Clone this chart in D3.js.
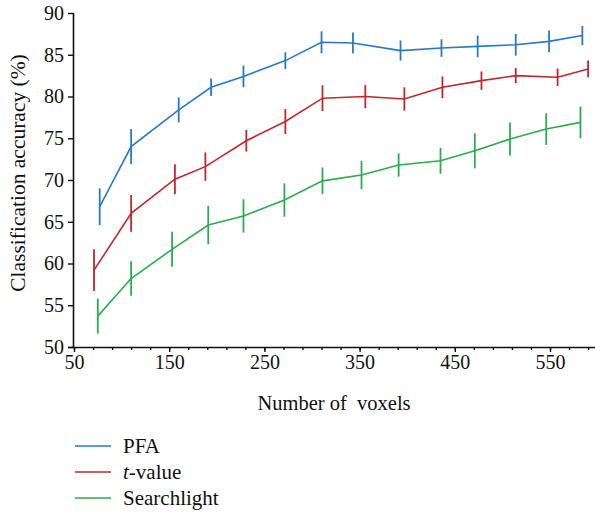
<!DOCTYPE html>
<html>
<head>
<meta charset="utf-8">
<script src="https://cdn.jsdelivr.net/npm/d3@7"></script>
<style>
  html, body { margin: 0; padding: 0; background: #fff; }
  svg { display: block; }
</style>
</head>
<body>
<script>
// ---- Data ----
const seriesNames = ["PFA", "t-value", "Searchlight"];

const pfaX   = [77, 110, 160, 194, 228, 272, 310, 343, 393, 436, 474, 514, 549, 584];
const pfaY   = [66.8, 74.0, 78.4, 81.1, 82.4, 84.3, 86.5, 86.4, 85.5, 85.8, 86.0, 86.2, 86.6, 87.3];
const pfaErr = [2.2, 2.1, 1.5, 1.05, 1.3, 1.0, 1.3, 1.25, 1.2, 1.05, 1.3, 1.3, 1.3, 1.15];

const tX   = [71, 110, 156, 188, 231, 272, 311, 356, 397, 437, 478, 514, 558, 590];
const tY   = [59.2, 66.0, 70.1, 71.6, 74.7, 77.0, 79.8, 80.0, 79.7, 81.1, 81.9, 82.5, 82.3, 83.3];
const tErr = [2.5, 2.2, 1.8, 1.7, 1.3, 1.5, 1.55, 1.4, 1.4, 1.3, 1.1, 0.9, 1.05, 1.0];

const slX   = [75, 110, 153, 191, 228, 271, 311, 352, 391, 435, 471, 508, 546, 582];
const slY   = [53.7, 58.2, 61.7, 64.6, 65.7, 67.6, 69.9, 70.6, 71.8, 72.3, 73.5, 74.9, 76.1, 76.9];
const slErr = [2.1, 2.05, 2.1, 2.3, 2.0, 2.0, 1.6, 1.7, 1.4, 1.55, 2.1, 2.0, 1.9, 1.9];

const xTickLabels = [50, 150, 250, 350, 450, 550];
const xMinorTicks = d3.range(50, 600, 20);
const yTickLabels = [50, 55, 60, 65, 70, 75, 80, 85, 90];

const colors = ["#2a78c0", "#c1272d", "#2aad4e"];
const FONT = "'Liberation Serif', 'Times New Roman', Tinos, 'DejaVu Serif', serif";

// ---- Layout ----
const W = 595, H = 512;
const svg = d3.select("body").append("svg").attr("width", W).attr("height", H);

const x = d3.scaleLinear().domain([50, 600]).range([74, 597.6]);
const y = d3.scaleLinear().domain([50, 90]).range([347, 13]);

// axes
const xAxisMinor = d3.axisBottom(x).tickValues(xMinorTicks).tickSize(3).tickFormat("");
const xAxisMajor = d3.axisBottom(x).tickValues(xTickLabels).tickSize(5).tickPadding(3);
const yAxis = d3.axisLeft(y).tickValues(yTickLabels).tickSize(6).tickPadding(4);

const gx1 = svg.append("g").attr("transform", `translate(0,${y(50)})`).call(xAxisMinor);
const gx2 = svg.append("g").attr("transform", `translate(0,${y(50)})`).call(xAxisMajor);
gx2.select(".domain").remove();
gx1.select(".domain").attr("d", `M${x(50) - 6},0.5H${W}`);
const gy = svg.append("g").attr("transform", `translate(${x(50)},0)`).call(yAxis);
gy.select(".domain").attr("d", `M-0.5,${y(90)}V${y(50)}`);

[gx1, gx2, gy].forEach(g => {
  g.attr("font-family", FONT).attr("font-size", 20);
  g.selectAll("path.domain").attr("stroke", "#111").attr("stroke-width", 1.6);
  g.selectAll(".tick line").attr("stroke", "#111").attr("stroke-width", 1.4);
  g.selectAll(".tick text").attr("font-family", FONT).attr("font-size", 20).attr("fill", "#111");
});

// axis titles
svg.append("text")
  .attr("transform", `translate(25,${(y(50) + y(90)) / 2 - 7}) rotate(-90)`)
  .attr("text-anchor", "middle")
  .attr("font-family", FONT).attr("font-size", 21.5).attr("fill", "#111")
  .text("Classification accuracy (%)");

svg.append("text")
  .attr("x", 334).attr("y", 410)
  .attr("text-anchor", "middle")
  .attr("font-family", FONT).attr("font-size", 20.5).attr("fill", "#111")
  .attr("xml:space", "preserve")
  .style("white-space", "pre")
  .text("Number of  voxels");

// series
const series = [
  { xs: pfaX, ys: pfaY, es: pfaErr },
  { xs: tX, ys: tY, es: tErr },
  { xs: slX, ys: slY, es: slErr }
];

const line = d3.line().x(d => x(d.x)).y(d => y(d.y));

series.forEach((s, i) => {
  const pts = s.xs.map((xv, j) => ({ x: xv, y: s.ys[j], e: s.es[j] }));
  const g = svg.append("g");
  g.append("path").datum(pts)
    .attr("d", line)
    .attr("fill", "none")
    .attr("stroke", colors[i])
    .attr("stroke-width", 1.6);
  g.selectAll("line.err").data(pts).enter().append("line")
    .attr("class", "err")
    .attr("x1", d => x(d.x)).attr("x2", d => x(d.x))
    .attr("y1", d => y(d.y - d.e)).attr("y2", d => y(d.y + d.e))
    .attr("stroke", colors[i])
    .attr("stroke-width", 1.8);
});

// legend
const legend = svg.append("g");
const legY = [446, 472, 498];
seriesNames.forEach((name, i) => {
  legend.append("line")
    .attr("x1", 75).attr("x2", 111)
    .attr("y1", legY[i]).attr("y2", legY[i])
    .attr("stroke", colors[i]).attr("stroke-width", 1.6);
  const t = legend.append("text")
    .attr("x", 123).attr("y", legY[i] + 7)
    .attr("font-family", FONT).attr("font-size", 21).attr("fill", "#111");
  if (name === "t-value") {
    t.append("tspan").attr("font-style", "italic").text("t");
    t.append("tspan").text("-value");
  } else {
    t.text(name);
  }
});
</script>
</body>
</html>
